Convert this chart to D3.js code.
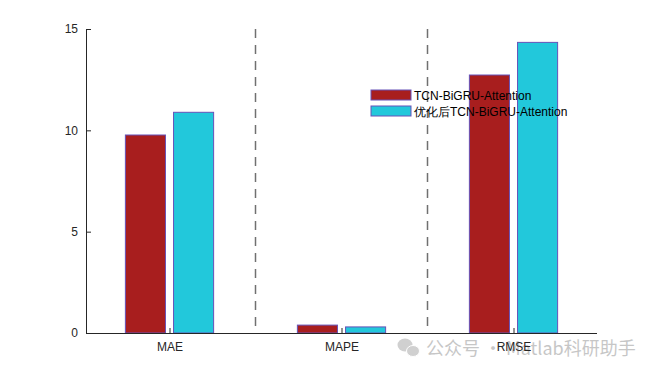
<!DOCTYPE html>
<html><head><meta charset="utf-8">
<script src="https://cdn.jsdelivr.net/npm/d3@7"></script>
<style>body{margin:0;background:#fff;}svg{display:block;font-family:"Liberation Sans",Arial,sans-serif;}</style>
</head><body>
<svg id="c" width="660" height="375"></svg>
<script>
const categories = ["MAE", "MAPE", "RMSE"];
const seriesNames = ["TCN-BiGRU-Attention", "优化后TCN-BiGRU-Attention"];
const seriesA = [9.77, 0.39, 12.73];
const seriesB = [10.89, 0.30, 14.34];
const yTicks = [0, 5, 10, 15];
const colors = ["#A81E1E", "#22C8DB"];
const edge = "#6652B8";

const svg = d3.select("#c");
const x = d3.scaleLinear().domain([0.5, 3.5]).range([83.5, 599.5]);
const y = d3.scaleLinear().domain([0, 15]).range([333, 29]);
const barW = 0.233, off = 0.14;

// watermark (behind chart text)
const wm = svg.append("g").attr("opacity", 0.55);
wm.append("ellipse").attr("cx", 405).attr("cy", 345).attr("rx", 7.5).attr("ry", 6.5).attr("fill", "#aaa");
wm.append("ellipse").attr("cx", 413).attr("cy", 351).attr("rx", 6.5).attr("ry", 5.5).attr("fill", "#aaa").attr("stroke", "#fff").attr("stroke-width", 1);
wm.append("text").attr("x", 426).attr("y", 355).text("公众号 · Matlab科研助手")
  .attr("font-size", 18).attr("fill", "#999").attr("font-family", "Noto Sans CJK SC, sans-serif");

// dashed separators
[1.5, 2.5].forEach(v => {
  svg.append("line").attr("x1", x(v)).attr("x2", x(v)).attr("y1", y(15)).attr("y2", y(0))
    .attr("stroke", "#707070").attr("stroke-width", 1.5).attr("stroke-dasharray", "9,7");
});

const series = [seriesA, seriesB];
series.forEach((s, si) => {
  svg.append("g").selectAll("rect").data(s).join("rect")
    .attr("x", (d, i) => x(i + 1 + (si === 0 ? -off : off) - barW / 2))
    .attr("width", x(barW) - x(0))
    .attr("y", d => y(d))
    .attr("height", d => y(0) - y(d))
    .attr("fill", colors[si]).attr("stroke", edge).attr("stroke-width", 1);
});

// axes
const yAxis = d3.axisLeft(y).tickValues(yTicks).tickSizeInner(-5).tickSizeOuter(0).tickPadding(8);
const gy = svg.append("g").attr("transform", "translate(86,0)").call(yAxis);
gy.select(".domain").attr("stroke", "#262626");
gy.selectAll(".tick line").attr("stroke", "#262626");
gy.selectAll("text").attr("font-size", 12).attr("fill", "#262626").attr("font-family", "Liberation Sans, Arial, sans-serif");

const xAxis = d3.axisBottom(x).tickValues([1, 2, 3]).tickFormat((d) => categories[d - 1]).tickSizeInner(-5).tickSizeOuter(0).tickPadding(9);
const gx = svg.append("g").attr("transform", "translate(0,333)").call(xAxis);
gx.select(".domain").attr("stroke", "#262626").attr("d", "M86,0.5H597");
gx.selectAll(".tick line").attr("stroke", "#262626");
gx.selectAll("text").attr("font-size", 12).attr("fill", "#262626").attr("font-family", "Liberation Sans, Arial, sans-serif");

// legend
const lg = svg.append("g").attr("transform", "translate(371,90)");
seriesNames.forEach((n, i) => {
  lg.append("rect").attr("x", 0).attr("y", i * 16).attr("width", 40).attr("height", 10)
    .attr("fill", colors[i]).attr("stroke", edge).attr("stroke-width", 1);
  lg.append("text").attr("x", 43).attr("y", i * 16 + 10).text(n)
    .attr("font-size", 12).attr("fill", "#000");
});
</script>
</body></html>
